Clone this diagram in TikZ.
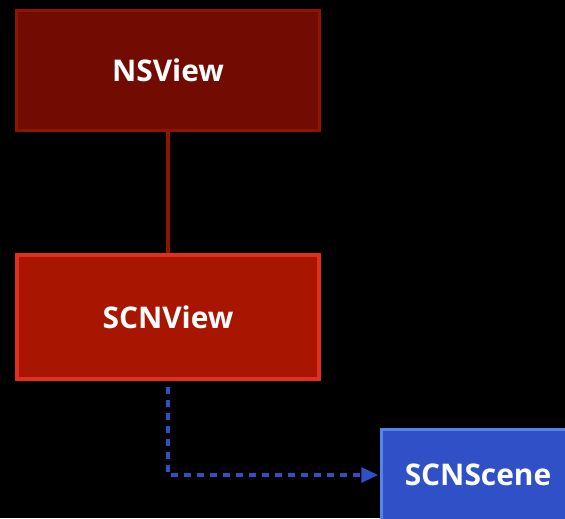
\documentclass[tikz,border=0pt]{standalone}
\usepackage{fontspec}
\setmainfont{Open Sans}
\usetikzlibrary{arrows.meta}
\definecolor{nsfill}{HTML}{720C02}
\definecolor{nsline}{HTML}{901402}
\definecolor{scvfill}{HTML}{A81500}
\definecolor{scvline}{HTML}{E03020}
\definecolor{scsfill}{HTML}{3050C8}
\definecolor{scsline}{HTML}{5585E8}
\begin{document}
\begin{tikzpicture}[
		x=0.02cm, y=-0.02cm,
		b/.style = {rectangle, text=white, font=\bfseries\fontsize{17}{20}\selectfont, inner sep=0pt, line width=1.8pt},
		r/.style = {draw=nsline, line width=1.8pt},
		d/.style = {draw=scsfill, line width=1.8pt, dash pattern=on 4pt off 3.4pt, -{Triangle[length=9.6pt, width=8.5pt]}}
		]
		
		%Background
		\fill[black] (0, 0) rectangle (565, 518);
		\useasboundingbox (0, 0) rectangle (565, 518);
		\clip (0, 0) rectangle (565, 518);
		
		%Nodes
		\node[b, fill=nsfill, draw=nsline, minimum width=6.06cm, minimum height=2.4cm]	(ns)	at	(168, 70.5)	{NSView};
		\node[b, fill=scvfill, draw=scvline, line width=2pt, minimum width=6.05cm, minimum height=2.49cm]	(scv)	at	(168, 317)	{SCNView};
		\node[b, fill=scsfill, draw=scsline, minimum width=3.86cm, minimum height=1.82cm]	(scs)	at	(478, 475)	{SCNScene};
		
		%Lines
		\draw[r]	(ns.south)	--	(scv.north);
		\draw[d, shorten >=1pt]	([yshift=-0.12cm]scv.south)	|-	(scs.west);
	\end{tikzpicture}
\end{document}
